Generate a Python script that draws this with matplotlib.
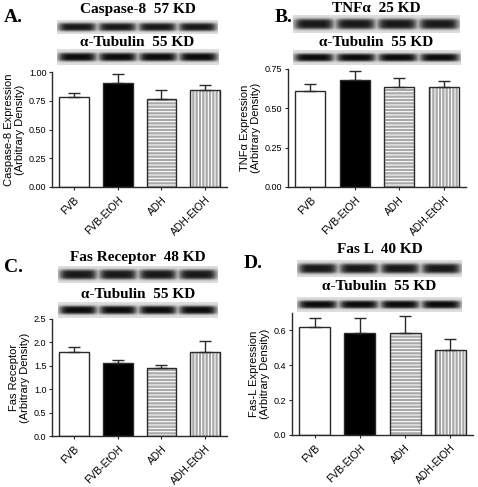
import numpy as np
import matplotlib
matplotlib.use('Agg')
import matplotlib.pyplot as plt

W, H = 478, 487

groups = ['FVB', 'FVB-EtOH', 'ADH', 'ADH-EtOH']

casp8_mean = [0.785, 0.905, 0.764, 0.847]
casp8_sem = [0.030, 0.075, 0.076, 0.038]
tnfa_mean = [0.613, 0.678, 0.638, 0.634]
tnfa_sem = [0.040, 0.057, 0.053, 0.038]
fasr_mean = [1.80, 1.553, 1.453, 1.795]
fasr_sem = [0.095, 0.077, 0.057, 0.242]
fasl_mean = [0.621, 0.586, 0.588, 0.486]
fasl_sem = [0.048, 0.087, 0.095, 0.066]

# panel: label, blot title, y label, data, ylim, yticks, tick fmt, axes box (px), blots (px)
panels = [
    dict(tag='A.', title='Caspase-8  57 KD', ylabel='Caspase-8 Expression\n(Arbitrary Density)',
         mean=casp8_mean, sem=casp8_sem, ylim=1.0, yticks=[0, 0.25, 0.5, 0.75, 1.0], fmt='{:.2f}',
         box=(52, 72, 227, 187), tagxy=(4, 18), titley=10, tuby=42,
         blot1=(57, 20, 218, 34), blot2=(57, 49, 219, 65)),
    dict(tag='B.', title='TNF\u03b1  25 KD', ylabel='TNF\u03b1 Expression\n(Arbitrary Density)',
         mean=tnfa_mean, sem=tnfa_sem, ylim=0.75, yticks=[0, 0.25, 0.5, 0.75], fmt='{:.2f}',
         box=(288, 69, 466, 187), tagxy=(275, 18), titley=8, tuby=43,
         blot1=(293, 15, 460, 33), blot2=(293, 50, 461, 65)),
    dict(tag='C.', title='Fas Receptor  48 KD', ylabel='Fas Receptor\n(Arbitrary Density)',
         mean=fasr_mean, sem=fasr_sem, ylim=2.5, yticks=[0, 0.5, 1.0, 1.5, 2.0, 2.5], fmt='{:.1f}',
         box=(52, 319, 227, 436), tagxy=(4, 268), titley=257, tuby=295,
         blot1=(58, 266, 218, 283), blot2=(58, 302, 218, 318)),
    dict(tag='D.', title='Fas L  40 KD', ylabel='Fas-L Expression\n(Arbitrary Density)',
         mean=fasl_mean, sem=fasl_sem, ylim=0.7, yticks=[0, 0.2, 0.4, 0.6], fmt='{:.1f}',
         box=(292, 313, 473, 435), tagxy=(244, 264), titley=250, tuby=286,
         blot1=(297, 260, 462, 277), blot2=(297, 297, 462, 312)),
]

face = ['white', 'black', '#a8a8a8', '#a8a8a8']
hatch = [None, None, '-----', '|||||']
edge = '#2a2a2a'

plt.rcParams['hatch.linewidth'] = 0.8
plt.rcParams['font.family'] = ['Liberation Sans', 'DejaVu Sans']

fig = plt.figure(figsize=(W / 100, H / 100), dpi=100)


def px_axes(x0, y0, x1, y1):
    return fig.add_axes([x0 / W, 1 - y1 / H, (x1 - x0) / W, (y1 - y0) / H])


def blot(box, dark=0.12, bg=0.87, thick=0.3, yc=0.5):
    ax = px_axes(*box)
    nx, ny = 240, 40
    xx = np.linspace(0, 1, nx)
    yy = np.linspace(0, 1, ny)
    X, Y = np.meshgrid(xx, yy)
    lane = np.zeros_like(X)
    for c in [0.125, 0.375, 0.625, 0.875]:
        lane = np.maximum(lane, np.exp(-((X - c) / 0.118) ** 6))
    band = np.exp(-((Y - yc) / thick) ** 4)
    img = bg - (bg - dark) * lane * band
    ax.imshow(img, cmap='gray', vmin=0, vmax=1, aspect='auto', extent=(0, 1, 0, 1),
              interpolation='bilinear')
    ax.set_axis_off()


serif = ['Liberation Serif', 'DejaVu Serif']
for p in panels:
    x0, y0, x1, y1 = p['box']
    ax = px_axes(x0, y0, x1, y1)
    xs = np.arange(len(groups))
    for i in xs:
        ax.bar(i, p['mean'][i], width=0.68, color=face[i], edgecolor='white' if hatch[i] else edge,
               hatch=hatch[i], linewidth=0, zorder=2)
        ax.bar(i, p['mean'][i], width=0.68, color='none', edgecolor=edge, linewidth=1.0, zorder=3)
        ax.errorbar(i, p['mean'][i], yerr=[[0], [p['sem'][i]]], fmt='none', ecolor=edge,
                    elinewidth=1.0, capsize=4, capthick=1.0, zorder=4)
    ax.set_xlim(-0.5, 3.5)
    ax.set_ylim(0, p['ylim'])
    ax.set_yticks(p['yticks'])
    ax.set_yticklabels([p['fmt'].format(v) for v in p['yticks']], fontsize=6.5)
    ax.set_xticks(xs)
    ax.set_xticklabels(groups, rotation=45, ha='right', rotation_mode='anchor', fontsize=7.5)
    ax.tick_params(length=2.5, width=0.8, color=edge, pad=1.5)
    ax.tick_params(axis='x', pad=3)
    for s in ['top', 'right']:
        ax.spines[s].set_visible(False)
    for s in ['left', 'bottom']:
        ax.spines[s].set_color(edge)
        ax.spines[s].set_linewidth(1.0)
    ax.set_ylabel(p['ylabel'], fontsize=8, labelpad=3, linespacing=1.1)

    bx0, _, bx1, _ = p['blot1']
    cx = (bx0 + bx1) / 2
    fig.text(cx / W, 1 - p['titley'] / H, p['title'], ha='center', va='center',
             family=serif, fontweight='bold', fontsize=11)
    fig.text(cx / W, 1 - p['tuby'] / H, '\u03b1-Tubulin  55 KD', ha='center', va='center',
             family=serif, fontweight='bold', fontsize=11)
    fig.text(p['tagxy'][0] / W, 1 - p['tagxy'][1] / H, p['tag'], ha='left', va='center',
             family=serif, fontweight='bold', fontsize=14)
    blot(p['blot1'], dark=0.10, thick=0.3)
    blot(p['blot2'], dark=0.05, thick=0.27)

fig.savefig('out.png', dpi=100)
